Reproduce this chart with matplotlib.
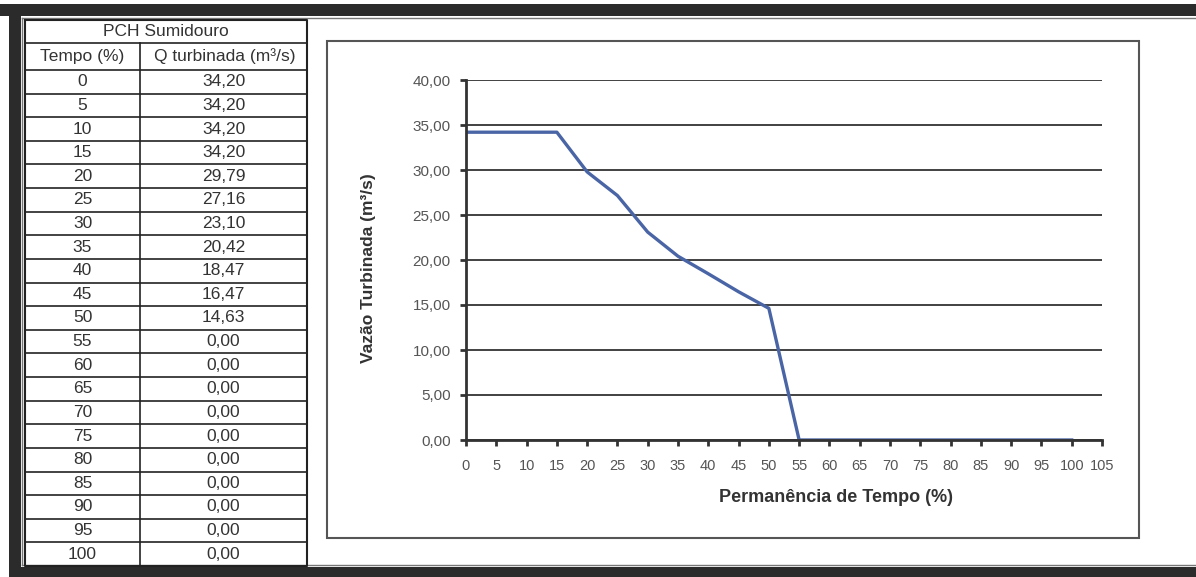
import matplotlib.pyplot as plt
from matplotlib.patches import Rectangle
from matplotlib.ticker import FuncFormatter

plt.rcParams['font.family'] = ['Liberation Sans', 'DejaVu Sans']

# dados da curva de permanencia
tempo = [0, 5, 10, 15, 20, 25, 30, 35, 40, 45, 50,
         55, 60, 65, 70, 75, 80, 85, 90, 95, 100]
vazao = [34.20, 34.20, 34.20, 34.20, 29.79, 27.16, 23.10, 20.42, 18.47, 16.47, 14.63,
         0.00, 0.00, 0.00, 0.00, 0.00, 0.00, 0.00, 0.00, 0.00, 0.00]
xticks = [0, 5, 10, 15, 20, 25, 30, 35, 40, 45, 50, 55,
          60, 65, 70, 75, 80, 85, 90, 95, 100, 105]
yticks = [0, 5, 10, 15, 20, 25, 30, 35, 40]

titulo_tab = 'PCH Sumidouro'
cab_tab = ['Tempo (%)', 'Q turbinada (m³/s)']

W, H = 1196, 577
fig = plt.figure(figsize=(W / 100, H / 100), dpi=100)

def virg(v, pos=None):
    return f'{v:.2f}'.replace('.', ',')

# fundo em pixels (moldura + tabela)
bg = fig.add_axes([0, 0, 1, 1])
bg.set_xlim(0, W)
bg.set_ylim(H, 0)
bg.axis('off')

# moldura escura
bg.add_patch(Rectangle((0, 4), W, 12, color='#2b2b2b', lw=0))
bg.add_patch(Rectangle((9, 4), 12, 570, color='#2b2b2b', lw=0))
bg.add_patch(Rectangle((9, 567), W, 10, color='#2b2b2b', lw=0))
bg.plot([22, W], [18, 18], color='#777777', lw=1)
bg.plot([22, 22], [18, 565], color='#777777', lw=1)
bg.plot([22, W], [565, 565], color='#777777', lw=1)

# tabela
xl, xm, xr = 25, 140, 307
y_top, y_tit, y_cab = 20, 43, 70
row_h = (566 - y_cab) / len(tempo)
lc = '#222222'
fs_tab = 12.5
bg.plot([xl, xr, xr, xl, xl], [y_top, y_top, 566, 566, y_top], color=lc, lw=1.5)
bg.plot([xl, xr], [y_tit, y_tit], color=lc, lw=1.2)
bg.plot([xm, xm], [y_tit, 566], color=lc, lw=1.2)
tc = '#333333'
bg.text((xl + xr) / 2, (y_top + y_tit) / 2, titulo_tab, ha='center', va='center',
        fontsize=fs_tab, color=tc)
bg.text((xl + xm) / 2, (y_tit + y_cab) / 2, cab_tab[0], ha='center', va='center',
        fontsize=fs_tab, color=tc)
bg.text((xm + xr) / 2 + 1, (y_tit + y_cab) / 2, cab_tab[1], ha='center', va='center',
        fontsize=fs_tab, color=tc)
for i, (t, q) in enumerate(zip(tempo, vazao)):
    y0 = y_cab + i * row_h
    bg.plot([xl, xr], [y0, y0], color=lc, lw=1.2)
    yc = y0 + row_h / 2
    bg.text((xl + xm) / 2, yc, str(t), ha='center', va='center', fontsize=fs_tab, color=tc)
    bg.text((xm + xr) / 2, yc, virg(q), ha='center', va='center', fontsize=fs_tab, color=tc)

# caixa do grafico
bg.add_patch(Rectangle((327, 41), 1139 - 327, 538 - 41, fill=False,
                       edgecolor='#555555', lw=1.5))

# grafico
ax = fig.add_axes([466 / W, (H - 440) / H, 636 / W, 360 / H])
ax.plot(tempo, vazao, color='#4a65a5', lw=2.4, solid_joinstyle='round')
ax.set_xlim(0, 105)
ax.set_ylim(0, 40)
ax.set_xticks(xticks)
ax.set_yticks(yticks)
ax.yaxis.set_major_formatter(FuncFormatter(virg))
ax.grid(axis='y', color='#333333', lw=1.3)
ax.set_axisbelow(True)
for s in ['top', 'right']:
    ax.spines[s].set_visible(False)
for s in ['left', 'bottom']:
    ax.spines[s].set_color('#333333')
    ax.spines[s].set_linewidth(2)
ax.tick_params(axis='both', direction='out', length=4, width=2, color='#333333',
               labelcolor='#555555')
ax.tick_params(axis='y', pad=7, labelsize=11)
ax.tick_params(axis='x', pad=10, labelsize=10.5)

ax.set_xlabel('Permanência de Tempo (%)', fontsize=13, fontweight='bold',
              color='#333333', va='center')
ax.xaxis.set_label_coords((836 - 466) / 636, -(497 - 440) / 360)
ax.set_ylabel('Vazão Turbinada (m³/s)', fontsize=12.5, fontweight='bold',
              color='#333333', va='center')
ax.yaxis.set_label_coords((368 - 466) / 636, (440 - 268) / 360)

fig.savefig('out.png', dpi=100, facecolor='white')
